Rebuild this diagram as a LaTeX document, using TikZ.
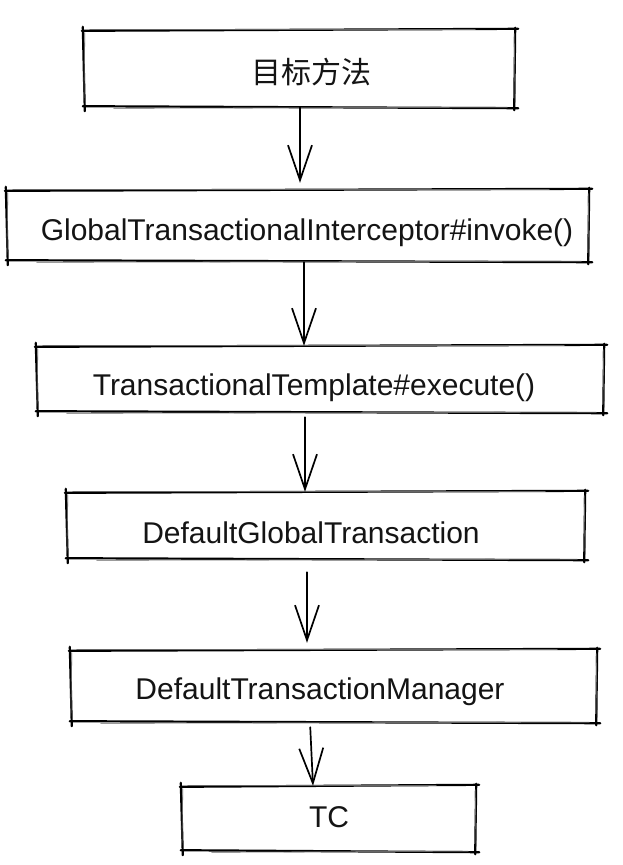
\documentclass[tikz,border=0pt]{standalone}
\usepackage{fontspec}
\setmainfont{Liberation Sans}
\newfontfamily\cjk{Noto Sans CJK SC}
\usetikzlibrary{arrows.meta,calc}
\newcommand\sketchbox[1]{%
  \draw[edge] ([shift={(-2,1)}]#1.north west) -- ([shift={(3,-1)}]#1.north east);
  \draw[edge2] ([shift={(6,0)}]#1.north west) -- ([shift={(-40,0)}]#1.north east);
  \draw[edge] ([shift={(0,-2)}]#1.north east) -- ([shift={(-1,3)}]#1.south east);
  \draw[edge2] ([shift={(-1,4)}]#1.north east) -- ([shift={(0,-5)}]#1.south east);
  \draw[edge] ([shift={(-1,-1)}]#1.south west) -- ([shift={(3,1)}]#1.south east);
  \draw[edge2] ([shift={(30,1)}]#1.south west) -- ([shift={(-8,0)}]#1.south east);
  \draw[edge] ([shift={(-1,-3)}]#1.north west) -- ([shift={(1,4)}]#1.south west);
  \draw[edge2] ([shift={(1,3)}]#1.north west) -- ([shift={(0,-6)}]#1.south west);
}
\begin{document}
\begin{tikzpicture}[x=1pt,y=-1pt,
  box/.style={rectangle, draw=none, inner sep=0pt},
  lbl/.style={font=\fontsize{30}{36}\selectfont, inner sep=0pt, text=black!92},
  edge/.style={line width=2.2pt, line cap=round, line join=round, black},
  edge2/.style={line width=0.8pt, line cap=round, black!60},
  flow/.style={line width=1.7pt, line cap=round, line join=round, black,
    -{Straight Barb[length=35pt,width=24pt,line width=1.7pt]}}]
\useasboundingbox (0,0) rectangle (623,865);
\fill[white] (0,0) rectangle (623,865);

\node[box, minimum width=431pt, minimum height=77pt] (b1) at (299.5,68.5) {};
\node[box, minimum width=582pt, minimum height=71pt] (b2) at (298,225.5) {};
\node[box, minimum width=567pt, minimum height=66pt] (b3) at (320.5,379) {};
\node[box, minimum width=518pt, minimum height=67pt] (b4) at (326,525.5) {};
\node[box, minimum width=526pt, minimum height=72pt] (b5) at (334,686) {};
\node[box, minimum width=294pt, minimum height=65pt] (b6) at (329,818.5) {};

\sketchbox{b1}
\sketchbox{b2}
\sketchbox{b3}
\sketchbox{b4}
\sketchbox{b5}
\sketchbox{b6}

\node[lbl] (t1) at (311,72) {\cjk 目标方法};
\node[lbl, anchor=base] (t2) at (307,240) {GlobalTransactionalInterceptor\#invoke()};
\node[lbl, anchor=base] (t3) at (314,395) {TransactionalTemplate\#execute()};
\node[lbl, anchor=base] (t4) at (311,543) {DefaultGlobalTransaction};
\node[lbl, anchor=base] (t5) at (320,699) {DefaultTransactionManager};
\node[lbl, anchor=base] (t6) at (329,827) {TC};

\draw[flow, shorten >=7pt] ($(b1.south)+(0.5,0)$) -- ($(b2.north)+(2,0)$);
\draw[flow, shorten <=1pt] ($(b2.south)+(6,0)$) -- ($(b3.north)+(-16.5,0)$);
\draw[flow, shorten <=5pt] ($(b3.south)+(-15.5,0)$) -- ($(b4.north)+(-21,0)$);
\draw[flow, shorten <=13pt, shorten >=7pt] ($(b4.south)+(-19,0)$) -- ($(b5.north)+(-27,0)$);
\draw[flow, shorten <=5pt] ($(b5.south)+(-24,0)$) -- ($(b6.north)+(-16,0)$);
\end{tikzpicture}
\end{document}
